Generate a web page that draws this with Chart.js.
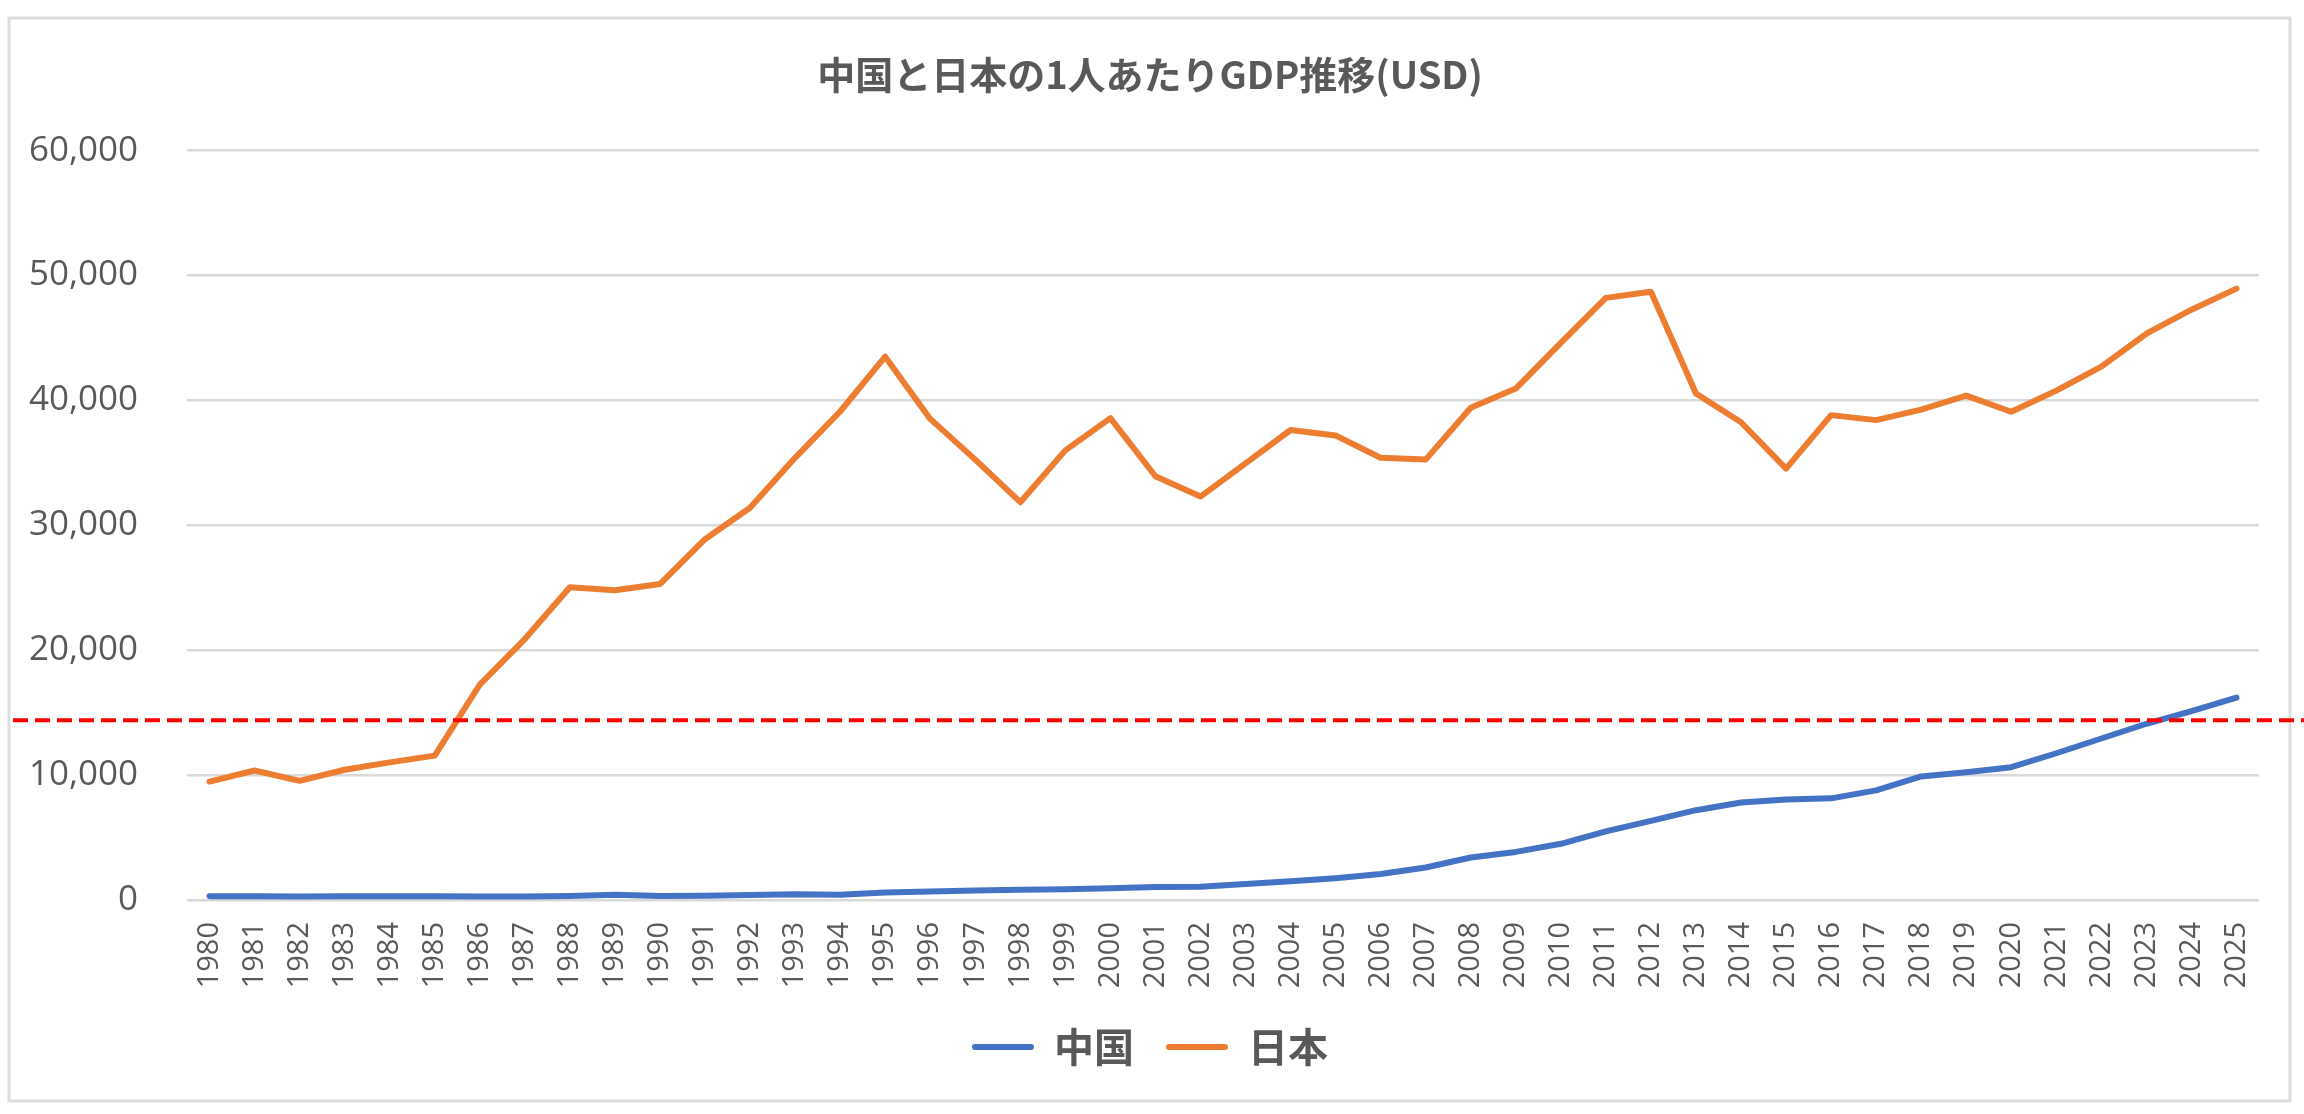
<!DOCTYPE html>
<html lang="ja">
<head>
<meta charset="utf-8">
<title>中国と日本の1人あたりGDP推移(USD)</title>
<script src="https://cdn.jsdelivr.net/npm/chart.js@4.4.1/dist/chart.umd.min.js"></script>
<style>
  html, body { margin: 0; padding: 0; background: #ffffff; }
  #wrap { width: 2304px; height: 1114px; }
</style>
</head>
<body>
<div id="wrap"><canvas id="c" width="2304" height="1114"></canvas></div>
<script>
// ---- data ----
const years = ['1980','1981','1982','1983','1984','1985','1986','1987','1988','1989',
  '1990','1991','1992','1993','1994','1995','1996','1997','1998','1999',
  '2000','2001','2002','2003','2004','2005','2006','2007','2008','2009',
  '2010','2011','2012','2013','2014','2015','2016','2017','2018','2019',
  '2020','2021','2022','2023','2024','2025'];

const chinaGDP = [310, 300, 290, 300, 300, 300, 290, 290, 330, 420,
  330, 340, 400, 470, 420, 600, 690, 770, 820, 860,
  950, 1040, 1060, 1290, 1500, 1750, 2080, 2600, 3400, 3850,
  4500, 5500, 6340, 7190, 7800, 8040, 8140, 8780, 9890, 10230,
  10630, 11750, 12930, 14110, 15120, 16200];

const japanGDP = [9480, 10370, 9540, 10430, 11020, 11560, 17240, 20890, 25040, 24800,
  25300, 28890, 31400, 35400, 39110, 43500, 38520, 35260, 31850, 36000,
  38580, 33930, 32300, 34960, 37630, 37190, 35410, 35260, 39410, 40950,
  44600, 48210, 48700, 40550, 38250, 34540, 38820, 38420, 39260, 40380,
  39090, 40780, 42710, 45340, 47260, 48950];

const seriesNames = ['中国', '日本'];
const yTicks = [0, 10000, 20000, 30000, 40000, 50000, 60000];
const referenceLevel = 14400; // red dashed marker line
const titleText = '中国と日本の1人あたりGDP推移(USD)';

// ---- styling ----
const TEXT = '#595959';
const GRID = '#d9d9d9';
const BLUE = '#4472c4';
const ORANGE = '#ed7d31';

const framePlugin = {
  id: 'frame',
  beforeDraw(chart) {
    const ctx = chart.ctx;
    ctx.save();
    ctx.fillStyle = '#ffffff';
    ctx.fillRect(0, 0, chart.width, chart.height);
    ctx.strokeStyle = '#dcdcdc';
    ctx.lineWidth = 3;
    ctx.strokeRect(9, 18, 2281, 1083);
    ctx.restore();
  }
};

const refLinePlugin = {
  id: 'refLine',
  afterDatasetsDraw(chart) {
    const ctx = chart.ctx;
    const y = chart.scales.y.getPixelForValue(referenceLevel);
    ctx.save();
    ctx.strokeStyle = '#ff0000';
    ctx.lineWidth = 4;
    ctx.setLineDash([15, 7]);
    ctx.beginPath();
    ctx.moveTo(13, y);
    ctx.lineTo(chart.width, y);
    ctx.stroke();
    ctx.restore();
  }
};

const ctx = document.getElementById('c').getContext('2d');
new Chart(ctx, {
  type: 'line',
  data: {
    labels: years,
    datasets: [
      { label: seriesNames[0], data: chinaGDP, borderColor: BLUE, backgroundColor: BLUE,
        borderWidth: 6, pointRadius: 0, tension: 0, borderCapStyle: 'round', borderJoinStyle: 'round' },
      { label: seriesNames[1], data: japanGDP, borderColor: ORANGE, backgroundColor: ORANGE,
        borderWidth: 6, pointRadius: 0, tension: 0, borderCapStyle: 'round', borderJoinStyle: 'round' }
    ]
  },
  options: {
    responsive: false,
    devicePixelRatio: 1,
    animation: false,
    layout: { padding: { left: 41, right: 45, top: 0, bottom: 37 } },
    plugins: {
      title: {
        display: true,
        text: titleText,
        color: TEXT,
        font: { family: '"Noto Sans CJK JP", "Open Sans", sans-serif', size: 38, weight: 'bold' },
        padding: { top: 52, bottom: 53 }
      },
      legend: {
        position: 'bottom',
        align: 'center',
        labels: {
          color: TEXT,
          font: { family: '"Noto Sans CJK JP", "Open Sans", sans-serif', size: 40, weight: 'bold' },
          boxWidth: 62,
          boxHeight: 6,
          padding: 32,
          useBorderRadius: true,
          borderRadius: 3,
          generateLabels(chart) {
            return Chart.defaults.plugins.legend.labels.generateLabels(chart).map(l => ({
              ...l, lineWidth: 0, strokeStyle: l.fillStyle
            }));
          }
        }
      },
      tooltip: { enabled: false }
    },
    scales: {
      x: {
        offset: true,
        grid: { display: false, drawTicks: false },
        border: { display: false },
        ticks: {
          autoSkip: false,
          minRotation: 90,
          maxRotation: 90,
          padding: 22,
          color: TEXT,
          font: { family: '"Open Sans", sans-serif', size: 29 }
        },
        afterFit(scale) { scale.height = 95; }
      },
      y: {
        min: 0,
        max: 60000,
        afterBuildTicks(scale) { scale.ticks = yTicks.map(v => ({ value: v })); },
        grid: { color: GRID, lineWidth: 2.5, drawTicks: false },
        border: { display: false },
        ticks: {
          padding: 49,
          color: TEXT,
          font: { family: '"Open Sans", sans-serif', size: 35 },
          callback: v => Number(v).toLocaleString('en-US')
        },
        afterFit(scale) {
          scale.width = 146;
          // let the tick labels extend past the axis box without being clipped
          scale._computeLabelArea = () => undefined;
        }
      }
    }
  },
  plugins: [framePlugin, refLinePlugin]
});
</script>
</body>
</html>
